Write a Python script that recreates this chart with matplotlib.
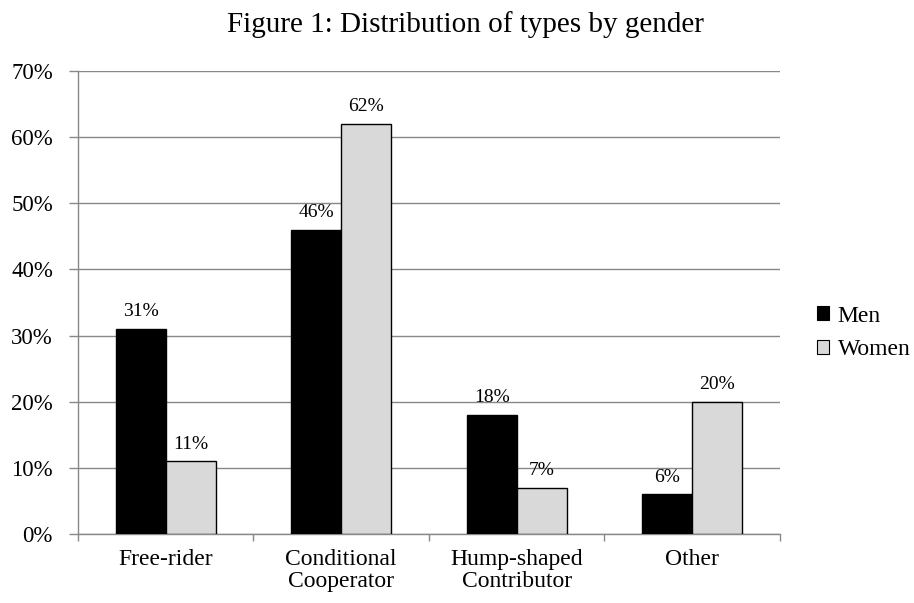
import matplotlib
matplotlib.use("Agg")
import matplotlib.pyplot as plt
import numpy as np
from matplotlib.patches import Rectangle

categories = ["Free-rider", "Conditional\nCooperator", "Hump-shaped\nContributor", "Other"]
men = [31, 46, 18, 6]
women = [11, 62, 7, 20]
yticks = [0, 10, 20, 30, 40, 50, 60, 70]

plt.rcParams['font.family'] = ['Liberation Serif', 'DejaVu Serif']

fig = plt.figure(figsize=(9.14, 6.03), dpi=100)
ax = fig.add_axes([0.0853, 0.1144, 0.7681, 0.7679])

x = np.arange(len(categories))
w = 0.285
gray = "#888888"

ax.bar(x - w/2, men, width=w, color="black", edgecolor="black", linewidth=1, zorder=3)
ax.bar(x + w/2, women, width=w, color="#d9d9d9", edgecolor="black", linewidth=1, zorder=3)

for xi, v in zip(x, men):
    ax.text(xi - w/2, v + 1.9, f"{v}%", ha="center", va="baseline", fontsize=14)
for xi, v in zip(x, women):
    ax.text(xi + w/2, v + 1.9, f"{v}%", ha="center", va="baseline", fontsize=14)

ax.set_xlim(-0.5, len(categories) - 0.5)
ax.set_ylim(0, 70)
ax.set_yticks(yticks)
ax.set_yticklabels([f"{t}%" for t in yticks], fontsize=16.5)
ax.yaxis.grid(True, color=gray, linewidth=1, zorder=0)
ax.tick_params(axis='y', length=6.5, color=gray, width=1, pad=11.5)

ax.set_xticks(x)
ax.set_xticklabels(categories, fontsize=17, linespacing=1.05)
ax.tick_params(axis='x', length=0, pad=11)
ax.set_xticks(np.arange(len(categories) + 1) - 0.5, minor=True)
ax.tick_params(axis='x', which='minor', length=5, color=gray, width=1)

for s in ["top", "right"]:
    ax.spines[s].set_visible(False)
for s in ["left", "bottom"]:
    ax.spines[s].set_color(gray)
    ax.spines[s].set_linewidth(1)

fig.text(0.509, 1 - 32/603, "Figure 1: Distribution of types by gender",
         ha="center", va="baseline", fontsize=21)

handles = [Rectangle((0, 0), 1, 1, facecolor="black", edgecolor="black", linewidth=0.8),
           Rectangle((0, 0), 1, 1, facecolor="#d9d9d9", edgecolor="black", linewidth=0.8)]
fig.legend(handles, ["Men", "Women"], loc="center left", bbox_to_anchor=(817/914, 1 - 333/603),
           frameon=False, fontsize=17, handlelength=0.52, handleheight=0.52,
           handletextpad=0.35, labelspacing=0.55, borderpad=0, borderaxespad=0)

fig.savefig("out.png", dpi=100)
